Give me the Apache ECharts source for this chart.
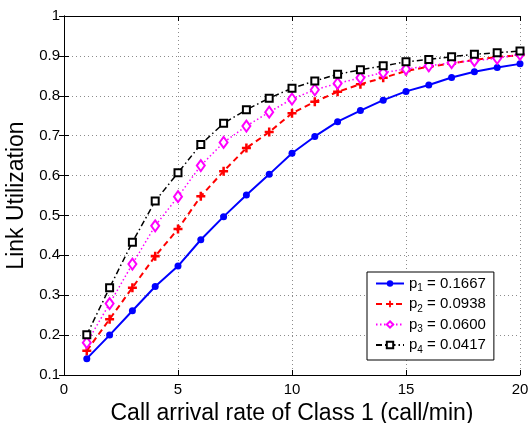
<!DOCTYPE html>
<html>
<head>
<meta charset="utf-8">
<title>Link Utilization</title>
<script src="https://cdn.jsdelivr.net/npm/echarts@6/dist/echarts.min.js"></script>
<style>
  html, body { margin: 0; padding: 0; background: #fff; }
  #chart { width: 530px; height: 423px; }
</style>
</head>
<body>
<div id="chart"></div>
<script>
// values
const arrivalRate = [1, 2, 3, 4, 5, 6, 7, 8, 9, 10, 11, 12, 13, 14, 15, 16, 17, 18, 19, 20];
const util_p1 = [0.141, 0.200, 0.261, 0.322, 0.373, 0.439, 0.497, 0.551, 0.603, 0.656,
                 0.698, 0.735, 0.763, 0.789, 0.811, 0.827, 0.846, 0.860, 0.871, 0.880];
const util_p2 = [0.161, 0.240, 0.319, 0.398, 0.466, 0.548, 0.611, 0.669, 0.709, 0.756,
                 0.785, 0.810, 0.829, 0.845, 0.862, 0.873, 0.881, 0.890, 0.897, 0.902];
const util_p3 = [0.181, 0.279, 0.378, 0.474, 0.547, 0.625, 0.683, 0.724, 0.759, 0.792,
                 0.815, 0.831, 0.845, 0.858, 0.867, 0.875, 0.883, 0.888, 0.894, 0.904];
const util_p4 = [0.201, 0.319, 0.433, 0.536, 0.607, 0.678, 0.731, 0.765, 0.794, 0.819,
                 0.837, 0.854, 0.865, 0.875, 0.885, 0.891, 0.898, 0.904, 0.908, 0.912];
const seriesNames = ['p1 = 0.1667', 'p2 = 0.0938', 'p3 = 0.0600', 'p4 = 0.0417'];

const FONT = '"Liberation Sans", Arial, Helvetica, sans-serif';
const PLUS = 'path://M3.6,0H6.4V3.6H10V6.4H6.4V10H3.6V6.4H0V3.6H3.6Z';

const chart = echarts.init(document.getElementById('chart'), null, { renderer: 'canvas' });

function pairs(ys) {
  return arrivalRate.map((x, i) => [x, ys[i]]);
}

const gridLine = { show: true, lineStyle: { color: '#8c8c8c', type: [1, 3], width: 1 } };
const frameLine = { show: true, lineStyle: { color: '#000', width: 1 } };
const innerTick = { show: true, inside: true, length: 5, lineStyle: { color: '#000' } };

chart.setOption({
  animation: false,
  textStyle: { fontFamily: FONT },
  grid: { left: 64, right: 10, top: 16, bottom: 48, outerBoundsMode: 'none', containLabel: false },
  xAxis: [
    {
      type: 'value',
      min: 0,
      max: 20,
      interval: 5,
      name: 'Call arrival rate of Class 1 (call/min)',
      nameLocation: 'middle',
      nameGap: 20,
      nameTextStyle: { fontSize: 23, color: '#000', fontFamily: FONT },
      axisLine: frameLine,
      axisTick: innerTick,
      axisLabel: { color: '#000', fontSize: 15, margin: 7, fontFamily: FONT },
      splitLine: gridLine,
    },
    {
      type: 'value',
      position: 'top',
      min: 0,
      max: 20,
      interval: 5,
      axisLine: frameLine,
      axisTick: innerTick,
      axisLabel: { show: false },
      splitLine: { show: false },
    },
  ],
  yAxis: [
    {
      type: 'value',
      min: 0.1,
      max: 1,
      interval: 0.1,
      name: 'Link Utilization',
      nameLocation: 'middle',
      nameGap: 34,
      nameTextStyle: { fontSize: 23, color: '#000', fontFamily: FONT },
      axisLine: frameLine,
      axisTick: innerTick,
      axisLabel: {
        color: '#000',
        fontSize: 15,
        margin: 4,
        fontFamily: FONT,
        formatter: (v) => String(Math.round(v * 10) / 10),
      },
      splitLine: gridLine,
    },
    {
      type: 'value',
      position: 'right',
      min: 0.1,
      max: 1,
      interval: 0.1,
      axisLine: frameLine,
      axisTick: innerTick,
      axisLabel: { show: false },
      splitLine: { show: false },
    },
  ],
  legend: {
    orient: 'vertical',
    left: 367,
    top: 272,
    width: 130,
    padding: [4, 8, 5, 8],
    itemGap: 3,
    itemWidth: 28,
    itemHeight: 8,
    itemTextGap: 9,
    backgroundColor: '#fff',
    borderColor: '#000',
    borderWidth: 1,
    borderRadius: 0,
    formatter(name) {
      const m = name.match(/^p(\d) = (.*)$/);
      return `{p|p}{s|${m[1]}}{p| = ${m[2]}}`;
    },
    textStyle: {
      fontFamily: FONT,
      fontSize: 15,
      color: '#000',
      rich: {
        p: { fontSize: 15, lineHeight: 20, color: '#000', fontFamily: FONT },
        s: { fontSize: 10, lineHeight: 20, color: '#000', fontFamily: FONT, verticalAlign: 'bottom' },
      },
    },
    data: seriesNames,
  },
  series: [
    {
      name: seriesNames[0],
      type: 'line',
      data: pairs(util_p1),
      symbol: 'circle',
      symbolSize: 7,
      lineStyle: { color: '#0000ff', width: 2 },
      itemStyle: { color: '#0000ff' },
    },
    {
      name: seriesNames[1],
      type: 'line',
      data: pairs(util_p2),
      symbol: PLUS,
      symbolSize: 9,
      lineStyle: { color: '#ff0000', width: 2, type: [6, 4] },
      itemStyle: { color: '#ff0000' },
    },
    {
      name: seriesNames[2],
      type: 'line',
      data: pairs(util_p3),
      symbol: 'emptyDiamond',
      symbolSize: [8, 11],
      lineStyle: { color: '#ff00ff', width: 1.5, type: [1.5, 2.5] },
      itemStyle: { color: '#ff00ff', borderWidth: 1.5 },
    },
    {
      name: seriesNames[3],
      type: 'line',
      data: pairs(util_p4),
      symbol: 'emptyRect',
      symbolSize: 7,
      lineStyle: { color: '#000', width: 1.5, type: [6, 3, 1.5, 3] },
      itemStyle: { color: '#000', borderWidth: 1.5 },
    },
  ],
});
</script>
</body>
</html>
